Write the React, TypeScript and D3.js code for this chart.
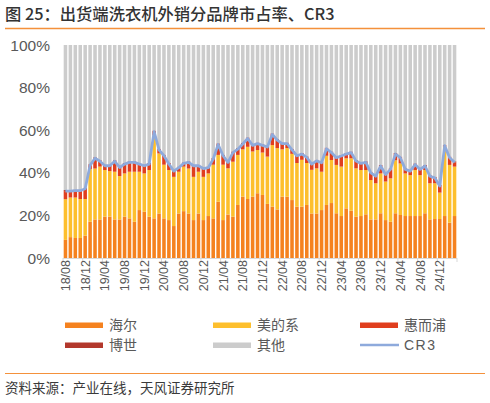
import React from "react";
import * as d3 from "d3";

const haier = [8.5, 9.8, 9.4, 9.4, 10.5, 17.0, 18.1, 18.1, 19.4, 19.4, 18.1, 18.1, 19.4, 18.6, 17.0, 22.5, 21.7, 19.4, 18.6, 20.9, 18.6, 17.8, 15.0, 20.9, 22.0, 20.9, 17.8, 20.9, 17.8, 19.7, 18.6, 26.4, 17.8, 20.4, 19.4, 24.9, 28.8, 27.7, 28.8, 30.4, 29.6, 25.4, 24.1, 22.8, 28.8, 28.8, 27.2, 24.1, 24.1, 24.9, 20.9, 20.9, 22.5, 24.9, 25.8, 21.0, 19.7, 23.3, 22.2, 19.4, 19.7, 20.5, 18.1, 18.1, 21.0, 17.8, 17.0, 21.0, 20.2, 19.7, 19.7, 19.7, 19.7, 21.0, 18.1, 18.3, 18.3, 19.7, 16.6, 19.7];
const midea = [19.1, 18.6, 19.0, 18.3, 17.2, 24.8, 23.9, 24.8, 21.9, 21.4, 22.4, 20.4, 20.3, 21.9, 23.5, 18.0, 18.0, 21.9, 39.1, 28.2, 25.2, 23.5, 23.1, 19.6, 20.9, 21.1, 20.3, 19.6, 20.3, 20.0, 25.2, 22.0, 26.0, 21.7, 25.8, 23.5, 22.2, 24.5, 21.2, 20.3, 19.9, 22.2, 28.9, 28.8, 22.2, 22.8, 21.7, 20.5, 22.0, 19.7, 20.5, 21.2, 18.0, 23.1, 20.2, 22.7, 23.2, 23.5, 24.6, 22.7, 21.6, 20.8, 18.5, 17.0, 18.7, 18.1, 20.4, 24.9, 24.2, 20.0, 19.2, 21.6, 19.2, 20.3, 17.0, 16.8, 12.4, 32.6, 27.1, 23.2];
const whirlpool = [3.8, 3.0, 3.2, 3.9, 4.8, 1.7, 4.8, 2.5, 2.0, 2.5, 4.9, 4.0, 4.4, 4.4, 4.4, 3.6, 3.6, 2.8, 1.6, 1.7, 4.2, 2.8, 2.7, 1.9, 1.5, 2.9, 5.2, 2.8, 3.9, 2.7, 2.6, 4.9, 4.2, 2.8, 4.3, 2.7, 2.5, 3.9, 2.9, 3.0, 3.4, 4.5, 5.0, 3.7, 2.7, 2.1, 1.9, 3.4, 2.7, 2.6, 2.7, 3.5, 4.2, 3.3, 3.5, 3.4, 5.0, 2.0, 2.7, 3.4, 3.1, 3.6, 3.4, 3.3, 3.5, 3.3, 4.2, 2.9, 2.7, 1.9, 1.9, 2.6, 2.7, 1.9, 3.3, 2.5, 3.1, 0.4, 3.4, 2.0];
const bosch = [0.5, 0.5, 0.5, 0.5, 0.5, 0.5, 0.5, 0.5, 0.5, 0.5, 0.5, 0.5, 0.5, 0.5, 0.5, 0.5, 0.5, 0.5, 0.5, 0.5, 0.5, 0.5, 0.5, 0.5, 0.5, 0.5, 0.5, 0.5, 0.5, 0.5, 0.5, 0.5, 0.5, 0.5, 0.5, 0.5, 0.5, 0.5, 0.5, 0.5, 0.5, 0.5, 0.5, 0.5, 0.5, 0.5, 0.5, 0.5, 0.5, 0.5, 0.5, 0.5, 0.5, 0.5, 0.5, 0.5, 0.5, 0.5, 0.5, 0.5, 0.5, 0.5, 0.5, 0.5, 0.5, 0.5, 0.5, 0.5, 0.5, 0.5, 0.5, 0.5, 0.5, 0.5, 0.5, 0.5, 0.5, 0.3, 0.5, 0.5];

const months = d3
  .timeMonth.range(new Date(2018, 7, 1), new Date(2025, 3, 1))
  .map((d) => d3.timeFormat("%y/%m")(d));

const yTicks = [0, 20, 40, 60, 80, 100];

const seriesNames = ["海尔", "美的系", "惠而浦", "博世", "其他"];
const colors = ["#F5821F", "#FDBF2D", "#E03E1E", "#B3382C", "#CCCCCC"];
const cr3Color = "#8EAADC";

const W = 490;
const H = 403;
const plot = { left: 63, right: 457, top: 45, bottom: 258 };
const FONT = "'Liberation Sans', Arial, 'Noto Sans CJK SC', sans-serif";
const CJK = "'Noto Sans CJK SC', sans-serif";

export default function App() {
  const x = d3
    .scaleBand<number>()
    .domain(months.map((_, i) => i))
    .range([plot.left, plot.right])
    .paddingInner(0.28)
    .paddingOuter(0.14);
  const step = x.step();
  const y = d3.scaleLinear().domain([0, 100]).range([plot.bottom, plot.top]);

  const rows = months.map((m, i) => {
    const others = 100 - haier[i] - midea[i] - whirlpool[i] - bosch[i];
    return { i, vals: [haier[i], midea[i], whirlpool[i], bosch[i], others] };
  });
  const cr3 = months.map((_, i) => haier[i] + midea[i] + whirlpool[i]);

  const line = d3
    .line<number>()
    .x((_, i) => (x(i) as number) + x.bandwidth() / 2)
    .y((d) => y(d))
    .curve(d3.curveLinear);

  const tickIdx = months.map((_, i) => i).filter((i) => i % 4 === 0);

  const legendItems = [
    { name: seriesNames[0], color: colors[0], type: "bar", lx: 65, ly: 325 },
    { name: seriesNames[1], color: colors[1], type: "bar", lx: 213, ly: 325 },
    { name: seriesNames[2], color: colors[2], type: "bar", lx: 360, ly: 325 },
    { name: seriesNames[3], color: colors[3], type: "bar", lx: 65, ly: 345 },
    { name: seriesNames[4], color: colors[4], type: "bar", lx: 213, ly: 345 },
    { name: "CR3", color: cr3Color, type: "line", lx: 360, ly: 345 },
  ];

  return (
    <svg
      width={W}
      height={H}
      style={{ position: "absolute", left: 0, top: 0, background: "#fff" }}
      fontFamily={FONT}
    >
      <text x={5} y={20} fontSize={16.3} fill="#333333" fontFamily={CJK} fontWeight={500}>
        图 25：出货端洗衣机外销分品牌市占率、CR3
      </text>
      <line x1={5} x2={485} y1={28.5} y2={28.5} stroke="#F4913B" strokeWidth={1.5} />

      {yTicks.map((t) => (
        <text key={t} x={50} y={y(t)} dy="0.36em" textAnchor="end" fontSize={15.5} fill="#595959">
          {t}%
        </text>
      ))}

      {rows.map((r) => {
        let acc = 0;
        return (
          <g key={r.i}>
            {r.vals.map((v, k) => {
              const y0 = y(acc);
              acc += v;
              const y1 = y(acc);
              return (
                <rect
                  key={k}
                  x={x(r.i)}
                  width={x.bandwidth()}
                  y={y1}
                  height={Math.max(0, y0 - y1)}
                  fill={colors[k]}
                />
              );
            })}
          </g>
        );
      })}

      <path d={line(cr3) || ""} fill="none" stroke={cr3Color} strokeWidth={2.8} strokeLinejoin="round" />

      <line x1={plot.left} x2={plot.right} y1={plot.bottom + 0.5} y2={plot.bottom + 0.5} stroke="#D9D9D9" strokeWidth={1} />
      {tickIdx.concat([months.length]).map((i) => {
        const tx = plot.left + i * step;
        return <line key={i} x1={tx} x2={tx} y1={plot.bottom} y2={plot.bottom + 4} stroke="#D9D9D9" strokeWidth={1} />;
      })}
      {tickIdx.map((i) => {
        const cx = plot.left + (i + 0.5) * step;
        return (
          <text
            key={i}
            transform={`translate(${cx},${plot.bottom + 2}) rotate(-90)`}
            textAnchor="end"
            dy="0.36em"
            fontSize={12.5}
            fill="#595959"
          >
            {months[i]}
          </text>
        );
      })}

      {legendItems.map((l) => (
        <g key={l.name}>
          {l.type === "bar" ? (
            <rect x={l.lx} y={l.ly - 2.5} width={38} height={5.5} fill={l.color} />
          ) : (
            <line x1={l.lx} x2={l.lx + 39} y1={l.ly} y2={l.ly} stroke={l.color} strokeWidth={2.5} />
          )}
          <text
            x={l.lx + 44}
            y={l.ly}
            dy="0.36em"
            fontSize={14}
            fill="#595959"
            fontFamily={l.type === "line" ? FONT : CJK}
            letterSpacing={l.type === "line" ? 1.5 : 0}
          >
            {l.name}
          </text>
        </g>
      ))}

      <line x1={5} x2={485} y1={373.5} y2={373.5} stroke="#F4913B" strokeWidth={1.2} />
      <text x={5} y={393} fontSize={13.5} fill="#3a3a3a" fontFamily={CJK}>
        资料来源：产业在线，天风证券研究所
      </text>
    </svg>
  );
}
